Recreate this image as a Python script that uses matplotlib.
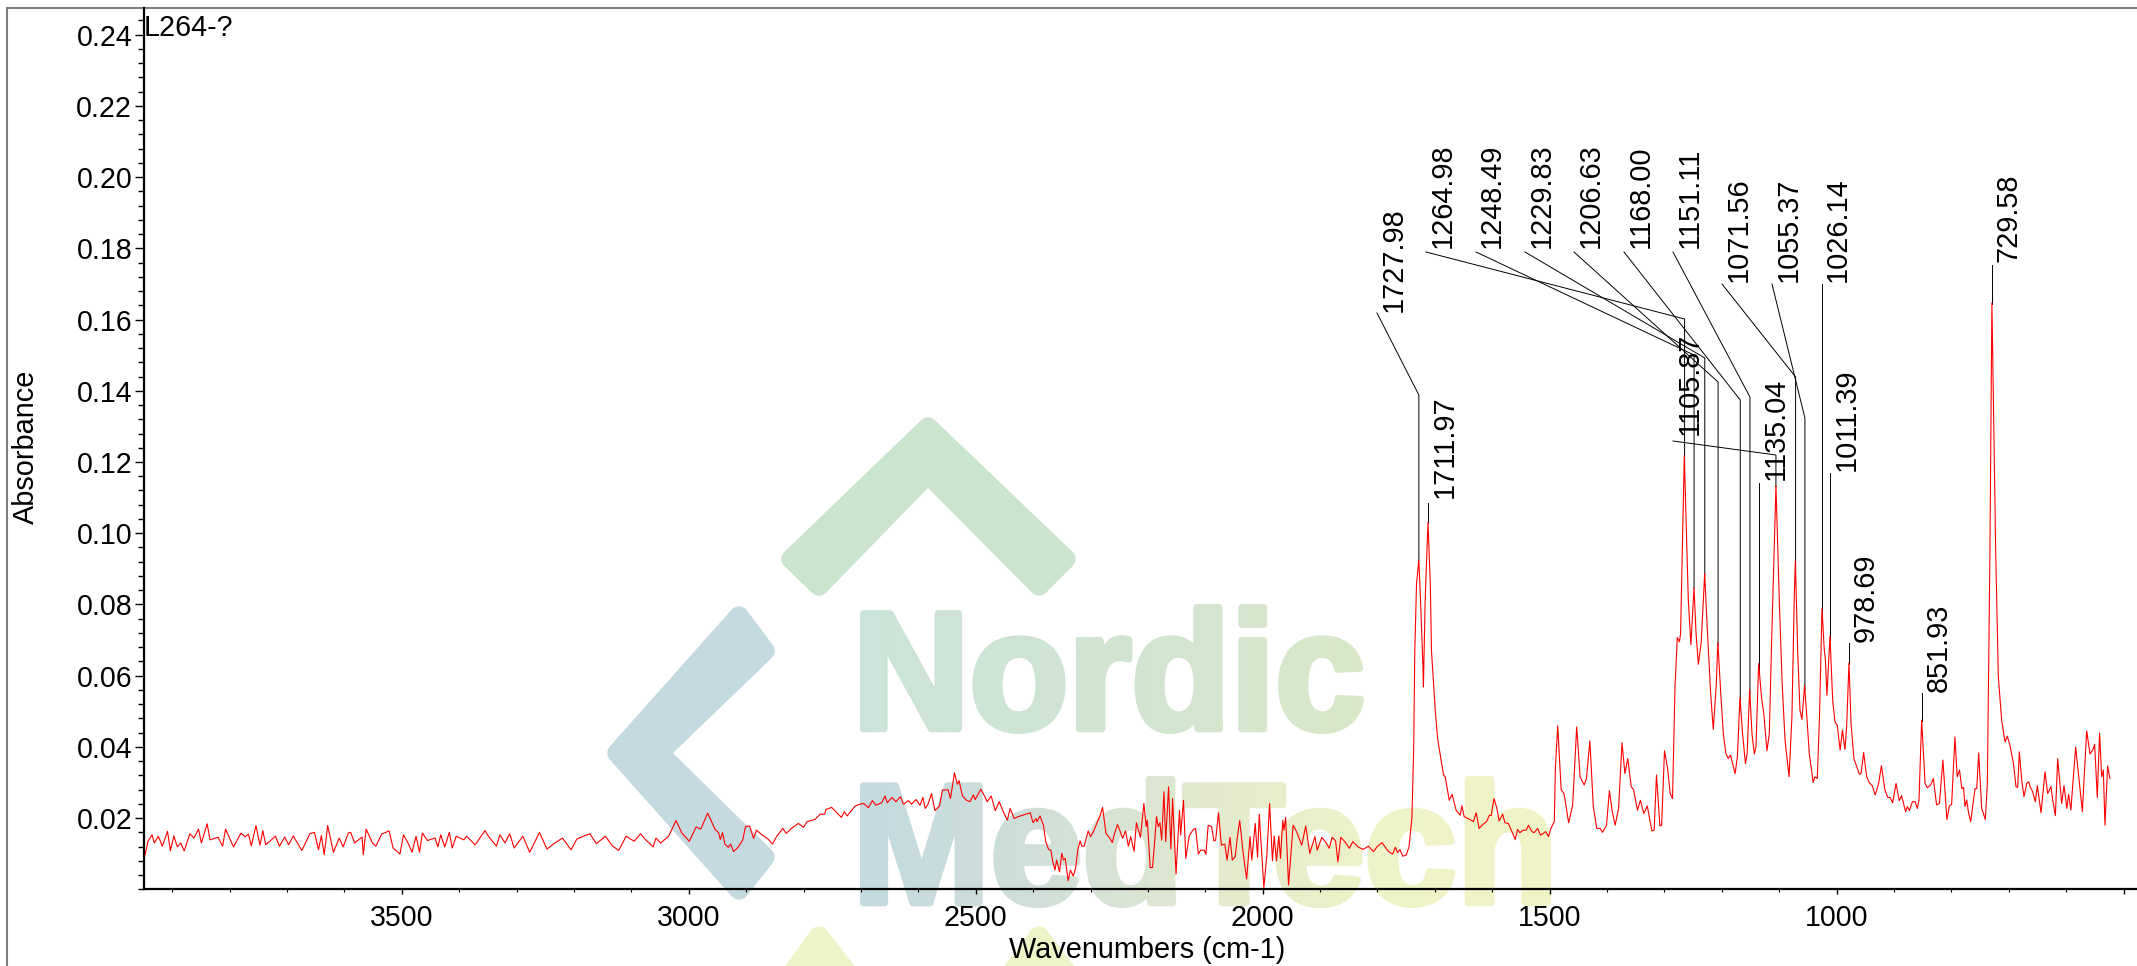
# plot.py - FTIR spectrum L264-? with peak labels
import numpy as np
import matplotlib
matplotlib.use("Agg")
import matplotlib.pyplot as plt
from matplotlib.patches import PathPatch, Polygon, Rectangle
from matplotlib.textpath import TextPath
from matplotlib.font_manager import FontProperties
from matplotlib.colors import LinearSegmentedColormap
from matplotlib.transforms import Affine2D
from matplotlib.ticker import MultipleLocator

# ---- Data ----
wn_baseline = [3947, 3942, 3935, 3931, 3924, 3917, 3908, 3903, 3897, 3891,
               3885, 3879, 3869, 3862, 3854, 3849, 3839, 3834, 3820, 3812,
               3807, 3793, 3780, 3773, 3767, 3762, 3754, 3747, 3742, 3737,
               3720, 3713, 3704, 3697, 3689, 3674, 3660, 3652, 3645, 3640,
               3635, 3629, 3619, 3609, 3602, 3593, 3589, 3582, 3569, 3567,
               3562, 3551, 3545, 3535, 3522, 3515, 3503, 3497, 3489, 3482,
               3475, 3469, 3464, 3455, 3442, 3437, 3432, 3425, 3417, 3412,
               3405, 3392, 3387, 3372, 3355, 3349, 3335, 3329, 3320, 3312,
               3304, 3289, 3277, 3260, 3247, 3235, 3220, 3205, 3195, 3182,
               3172, 3161, 3145, 3133, 3122, 3109, 3095, 3084, 3075, 3062,
               3057, 3049, 3035, 3022, 3012, 2999, 2987, 2979, 2967]
abs_baseline = [.0097, .0135, .0153, .0130, .0149, .0121, .0163, .0108, .0150, .0119,
                .0130, .0108, .0156, .0144, .0169, .0130, .0184, .0139, .0146, .0121,
                .0169, .0119, .0158, .0147, .0155, .0122, .0179, .0124, .0165, .0125,
                .0149, .0121, .0147, .0125, .0150, .0109, .0156, .0160, .0111, .0151,
                .0097, .0179, .0104, .0144, .0119, .0158, .0160, .0130, .0147, .0097,
                .0169, .0130, .0121, .0155, .0164, .0116, .0099, .0153, .0130, .0104,
                .0149, .0104, .0158, .0137, .0144, .0119, .0153, .0119, .0160, .0116,
                .0149, .0139, .0149, .0125, .0165, .0149, .0121, .0153, .0130, .0156,
                .0116, .0149, .0104, .0160, .0113, .0128, .0144, .0111, .0141, .0150,
                .0156, .0128, .0149, .0122, .0109, .0149, .0135, .0156, .0139, .0119,
                .0144, .0130, .0149, .0193, .0158, .0135, .0175, .0169, .0214]

wn_hump = [2954, 2948, 2945, 2941, 2937, 2931, 2927, 2922, 2914, 2906,
           2901, 2894, 2887, 2882, 2873, 2861, 2854, 2847, 2836, 2830,
           2821, 2809, 2800, 2794, 2780, 2771, 2763, 2761, 2751, 2742,
           2734, 2729, 2724, 2718, 2710, 2702, 2695, 2687, 2680, 2674,
           2664, 2658, 2654, 2646, 2639, 2631, 2626, 2617, 2612, 2604,
           2597, 2592, 2588, 2583, 2577, 2571, 2563, 2558, 2548, 2544,
           2537, 2532, 2529, 2523, 2516, 2510, 2504, 2501, 2491, 2484,
           2480, 2473, 2466, 2459, 2452, 2445, 2440, 2433, 2426]
abs_hump = [.0168, .0159, .0140, .0159, .0127, .0118, .0127, .0106, .0118, .0138,
            .0176, .0178, .0143, .0166, .0154, .0140, .0127, .0148, .0171, .0157,
            .0171, .0185, .0174, .0190, .0196, .0211, .0211, .0224, .0230, .0215,
            .0202, .0218, .0206, .0218, .0234, .0239, .0241, .0229, .0249, .0236,
            .0243, .0262, .0243, .0258, .0246, .0260, .0239, .0249, .0239, .0252,
            .0236, .0258, .0227, .0239, .0269, .0221, .0234, .0279, .0279, .0255,
            .0327, .0295, .0305, .0262, .0250, .0246, .0265, .0252, .0281, .0260,
            .0246, .0262, .0221, .0246, .0218, .0194, .0227, .0199, .0204]

wn_co2 = [2405, 2400, 2395, 2393, 2388, 2382, 2378, 2373, 2369, 2366,
          2362, 2359, 2354, 2350, 2347, 2344, 2339, 2335, 2330, 2326,
          2322, 2318, 2315, 2311, 2304, 2300, 2295, 2289, 2283, 2279,
          2273, 2266, 2262, 2259, 2253, 2249, 2244, 2239, 2234, 2230,
          2224, 2220, 2213, 2207, 2203, 2201, 2196, 2192, 2188, 2185,
          2182, 2179, 2176, 2172, 2169, 2164, 2160, 2157, 2151, 2145,
          2143, 2138, 2134, 2128, 2121, 2117, 2112, 2108, 2102, 2099,
          2095, 2089, 2085, 2082, 2077, 2072, 2066, 2062, 2057, 2053,
          2048, 2044, 2040, 2034, 2028, 2022, 2019, 2013, 2009, 2006,
          1998, 1993, 1988, 1983, 1980, 1976, 1972, 1969, 1965, 1963,
          1960, 1955, 1947, 1941, 1932, 1925, 1918, 1909, 1905, 1897,
          1891, 1884, 1879, 1873, 1869, 1864, 1857, 1849, 1843, 1833,
          1825, 1816, 1807, 1800, 1792, 1781]
abs_co2 = [.0215, .0187, .0199, .0190, .0206, .0180, .0134, .0112, .0110, .0080,
           .0054, .0082, .0049, .0101, .0082, .0087, .0024, .0054, .0037, .0059,
           .0112, .0136, .0121, .0121, .0164, .0148, .0162, .0185, .0208, .0230,
           .0157, .0143, .0131, .0152, .0182, .0166, .0143, .0164, .0121, .0148,
           .0107, .0187, .0146, .0241, .0176, .0194, .0061, .0061, .0138, .0204,
           .0176, .0187, .0138, .0274, .0134, .0288, .0113, .0255, .0043, .0222,
           .0152, .0250, .0087, .0150, .0168, .0171, .0099, .0110, .0110, .0098,
           .0180, .0176, .0136, .0138, .0215, .0124, .0127, .0082, .0146, .0082,
           .0091, .0148, .0193, .0101, .0029, .0148, .0082, .0185, .0090, .0211,
           .0005, .0091, .0241, .0080, .0150, .0080, .0150, .0087, .0194, .0166,
           .0202, .0012, .0180, .0162, .0124, .0178, .0101, .0148, .0110, .0146,
           .0134, .0115, .0146, .0136, .0077, .0146, .0134, .0115, .0134, .0118,
           .0112, .0121, .0106, .0121, .0131, .0106]

wn_carbonyl = [1773.5, 1769, 1765, 1761, 1756, 1750, 1745, 1740, 1737, 1735,
               1732, 1728, 1725, 1721, 1720, 1717, 1712, 1708, 1706, 1703,
               1699, 1695, 1691, 1685, 1682, 1675, 1670, 1663, 1656, 1653,
               1649, 1639, 1633, 1628, 1623, 1616, 1610, 1605, 1602, 1597,
               1592, 1588, 1582, 1578, 1572, 1560, 1556, 1552, 1546, 1541,
               1537, 1531, 1527, 1521, 1516, 1507, 1502, 1498, 1492, 1490,
               1486, 1480, 1475, 1467, 1460, 1453, 1447, 1440, 1436, 1430,
               1424, 1418, 1412, 1408, 1401, 1396, 1391, 1386, 1380, 1374,
               1369, 1364, 1358, 1354, 1347, 1342, 1336, 1330, 1322, 1318,
               1314, 1308, 1305, 1300, 1295, 1290, 1286]
abs_carbonyl = [.0099, .0118, .0103, .0112, .0093, .0096, .0120, .0204, .0391, .0671,
                .0858, .0924, .0811, .0634, .0568, .0811, .1031, .0858, .0671, .0596,
                .0494, .0419, .0381, .0321, .0316, .0250, .0267, .0222, .0208, .0235,
                .0204, .0196, .0190, .0215, .0171, .0183, .0190, .0208, .0207, .0255,
                .0227, .0192, .0211, .0187, .0185, .0140, .0168, .0159, .0166, .0166,
                .0180, .0162, .0159, .0171, .0152, .0162, .0148, .0171, .0190, .0344,
                .0459, .0279, .0269, .0187, .0236, .0456, .0316, .0293, .0311, .0417,
                .0232, .0171, .0171, .0160, .0180, .0277, .0218, .0180, .0227, .0412,
                .0325, .0367, .0288, .0280, .0222, .0250, .0213, .0234, .0164, .0166,
                .0321, .0178, .0180, .0389, .0344, .0269, .0255]

wn_finger = [1281.7, 1277.7, 1274, 1272, 1265.5, 1258.5, 1254, 1248.6, 1245, 1241,
             1236, 1230, 1225, 1219.6, 1215, 1210, 1207, 1202, 1197.5, 1193,
             1189, 1185, 1177, 1173, 1168.5, 1164, 1159, 1156, 1151.6, 1147.6,
             1143.5, 1140.6, 1136, 1131, 1127, 1121.5, 1117.4, 1113, 1105.8, 1100,
             1095, 1090, 1083, 1078, 1073.8, 1072, 1068, 1064, 1060.5, 1056,
             1052, 1047.7, 1041, 1038, 1033.8, 1030, 1025.6, 1021.6, 1019.8, 1017,
             1011.7, 1007, 1003, 999, 994, 990, 985.6, 982.7, 978.6]
abs_finger = [.0568, .0707, .0695, .0718, .1218, .0811, .0687, .0847, .0718, .0632,
              .0695, .0886, .0718, .0550, .0449, .0568, .0693, .0550, .0437, .0381,
              .0367, .0377, .0325, .0372, .0538, .0437, .0353, .0381, .0561, .0437,
              .0380, .0400, .0634, .0540, .0493, .0389, .0437, .0718, .1134, .0811,
              .0578, .0419, .0316, .0484, .0830, .0922, .0671, .0503, .0477, .0573,
              .0484, .0381, .0300, .0316, .0311, .0484, .0788, .0671, .0648, .0545,
              .0711, .0531, .0470, .0461, .0391, .0447, .0393, .0456, .0636]

wn_low = [975, 970, 965, 960.5, 957.6, 953, 947.8, 943, 938, 933,
          927, 922, 916, 911, 907, 902.5, 896.6, 891, 887, 880,
          877, 873.4, 868, 863.5, 859.5, 856.6, 852, 846, 842, 836,
          831.6, 826, 821, 815, 808, 803.7, 799.7, 794, 790, 786,
          782, 779, 776.5, 773.5, 770.6, 766.6, 759, 756, 752.6, 747.4,
          741, 737.5, 735, 733, 729.6, 723, 718.4, 712.6, 706.8, 702.7,
          698, 692, 687.6, 684.7, 681.8, 677.7, 673.7, 669, 665.5, 663,
          658.6, 654, 650.4, 644, 637, 632.4, 626.6, 623.7, 619, 615,
          608, 604, 599, 596, 592, 583.7, 572, 564.5, 558.7, 554,
          550.6, 546, 542, 538.4, 535.5, 532.6, 528, 524]
abs_low = [.0466, .0367, .0344, .0323, .0325, .0384, .0316, .0299, .0291, .0265,
           .0297, .0347, .0279, .0258, .0258, .0243, .0297, .0249, .0263, .0218,
           .0232, .0221, .0246, .0246, .0227, .0251, .0475, .0297, .0285, .0294,
           .0311, .0237, .0241, .0363, .0196, .0234, .0239, .0428, .0316, .0335,
           .0283, .0286, .0232, .0251, .0218, .0190, .0283, .0283, .0383, .0227,
           .0196, .0297, .0671, .0952, .1647, .0952, .0597, .0475, .0414, .0430,
           .0403, .0353, .0288, .0286, .0386, .0307, .0260, .0297, .0302, .0288,
           .0274, .0246, .0291, .0215, .0330, .0269, .0288, .0251, .0207, .0367,
           .0241, .0291, .0227, .0267, .0223, .0400, .0218, .0445, .0380, .0391,
           .0407, .0258, .0439, .0316, .0335, .0180, .0346, .0311]

wavenumbers = np.array(wn_baseline + wn_hump + wn_co2 + wn_carbonyl + wn_finger + wn_low, dtype=float)
absorbance = np.array(abs_baseline + abs_hump + abs_co2 + abs_carbonyl + abs_finger + abs_low)

y_ticks = [0.02, 0.04, 0.06, 0.08, 0.10, 0.12, 0.14, 0.16, 0.18, 0.20, 0.22, 0.24]
y_ticklabels = ["0.02", "0.04", "0.06", "0.08", "0.10", "0.12", "0.14", "0.16", "0.18", "0.20", "0.22", "0.24"]
x_ticks = [3500, 3000, 2500, 2000, 1500, 1000, 500]
x_ticklabels = ["3500", "3000", "2500", "2000", "1500", "1000", ""]

peak_labels = ["1727.98", "1711.97", "1264.98", "1248.49", "1229.83", "1206.63", "1168.00", "1151.11", "1135.04",
               "1105.87", "1071.56", "1055.37", "1026.14", "1011.39", "978.69", "851.93", "729.58"]

# ---- Layout (pixels from top left of the image) ----
W, H = 2137, 966
# label: text centre x, text bottom y, leader start (x, y), knee y
peak_layout = {
    "1727.98": (1394, 312, (1377, 313), 395),
    "1711.97": (1445, 498, None, 503),
    "1264.98": (1443, 248, (1426, 252), 319),
    "1248.49": (1492, 248, (1476, 252), 355),
    "1229.83": (1542, 248, (1525, 252), 358),
    "1206.63": (1591, 248, (1574, 252), 382),
    "1168.00": (1641, 248, (1624, 252), 400),
    "1151.11": (1690, 248, (1673, 252), 397),
    "1135.04": (1776, 480, None, 483),
    "1105.87": (1690, 435, (1673, 441), 455),
    "1071.56": (1739, 282, (1722, 284), 377),
    "1055.37": (1789, 282, (1772, 284), 418),
    "1026.14": (1838, 282, None, 284),
    "1011.39": (1847, 471, None, 473),
    "978.69": (1866, 642, None, 643),
    "851.93": (1939, 692, None, 693),
    "729.58": (2008, 262, None, 265),
}

plt.rcParams["font.family"] = ["Liberation Sans", "DejaVu Sans"]

fig = plt.figure(figsize=(W / 100, H / 100), dpi=100, facecolor="white")
px = Affine2D().scale(1, -1).translate(0, H)

# ---- Watermark behind the chart ----
bg = fig.add_axes([0, 0, 1, 1], zorder=0)
bg.set_axis_off()
bg.set_xlim(0, W)
bg.set_ylim(H, 0)


def chevron(points, color):
    bg.add_patch(Polygon(points, closed=True, facecolor=color, edgecolor=color,
                         lw=14, joinstyle="round"))


chevron([(928, 427), (1066, 559), (1039, 586), (928, 474), (819, 586), (791, 559)], "#cbe4cd")
chevron([(739, 616), (765, 651), (659, 753), (765, 857), (739, 890), (617, 753)], "#c4d9e0")
chevron([(790, 976), (819, 936), (850, 976)], "#eff3c8")
chevron([(1009, 976), (1039, 936), (1070, 976)], "#eff3c8")


def gradient_word(word, x0, x1, y_top, y_base, colors, stroke=5, strip=12):
    # thick letters, painted in narrow vertical strips so the colour runs left to right
    font = FontProperties(family="Liberation Sans", weight="bold")
    tp = TextPath((0, 0), word, size=100, prop=font)
    box = tp.get_extents()
    inset = stroke * 100 / 72 / 2
    tr = (Affine2D().translate(-box.x0, -box.y0)
          .scale((x1 - x0 - 2 * inset) / box.width, -(y_base - y_top - 2 * inset) / box.height)
          .translate(x0 + inset, y_base - inset))
    cmap = LinearSegmentedColormap.from_list(word, colors)
    for left in np.arange(x0, x1, strip):
        color = cmap((left - x0) / (x1 - x0))
        patch = PathPatch(tr.transform_path(tp), facecolor=color, edgecolor=color, lw=stroke,
                          joinstyle="round", zorder=1)
        bg.add_patch(patch)
        patch.set_clip_path(Rectangle((left, y_top - 10), strip + 1, y_base - y_top + 20,
                                      transform=bg.transData))


gradient_word("Nordic", 860, 1364, 604, 734, ["#cbe3d8", "#d0e4d0", "#d9e8c9"])
gradient_word("MedTech", 860, 1551, 776, 908, ["#c4dae0", "#cfdfd8", "#e2e9cd", "#eff3c8", "#eff3c6"])

# grey frame round the plot
bg.plot([7, 7, W], [H, 8, 8], color="#808080", lw=1.5, solid_joinstyle="miter", zorder=2)

# ---- Spectrum ----
ax = fig.add_axes([144 / W, (H - 889.3) / H, 1 - 144 / W, (889.3 - 8) / H], zorder=1)
ax.patch.set_alpha(0)
ax.plot(wavenumbers, absorbance, color="#ff0000", lw=0.8, zorder=3)

ax.set_xlim(3949, 476.8)
ax.set_ylim(0, 0.2475)
for side in ("top", "right"):
    ax.spines[side].set_visible(False)
for side in ("left", "bottom"):
    ax.spines[side].set_linewidth(1.6)

ax.set_xticks(x_ticks)
ax.set_xticklabels(x_ticklabels)
ax.set_yticks(y_ticks)
ax.set_yticklabels(y_ticklabels)
ax.xaxis.set_minor_locator(MultipleLocator(100))
ax.yaxis.set_minor_locator(MultipleLocator(0.004))
ax.tick_params(axis="x", which="major", length=3.5, width=1, labelsize=20.6, pad=7)
ax.tick_params(axis="x", which="minor", length=2, width=0.8)
ax.tick_params(axis="y", which="major", length=6.5, width=1, labelsize=20.6, pad=2)
ax.tick_params(axis="y", which="minor", length=4.3, width=1)

fig.text(1147 / W, (H - 958) / H, "Wavenumbers (cm-1)", fontsize=20.8, ha="center", va="baseline")
fig.text(26 / W, (H - 447) / H, "Absorbance", fontsize=20.8, rotation=90, ha="center", va="center")
fig.text(144 / W, (H - 36) / H, "L264-?", fontsize=20.7, ha="left", va="baseline")

# ---- Peak labels and leader lines ----
for label in peak_labels:
    text_x, text_y, start, knee_y = peak_layout[label]
    wn = float(label)
    peak = np.interp(wn, wavenumbers[::-1], absorbance[::-1])
    peak_x, peak_y = px.inverted().transform(ax.transData.transform((wn, peak)))
    xs, ys = [peak_x, peak_x], [peak_y, knee_y]
    if start is not None:
        xs.append(start[0])
        ys.append(start[1])
    ax.plot(xs, ys, color="black", lw=0.7, transform=px, clip_on=False, zorder=2)
    ax.text(text_x, text_y, label, transform=px, fontsize=20.8, rotation=90,
            ha="center", va="bottom", zorder=4)

fig.savefig("out.png", dpi=100)
